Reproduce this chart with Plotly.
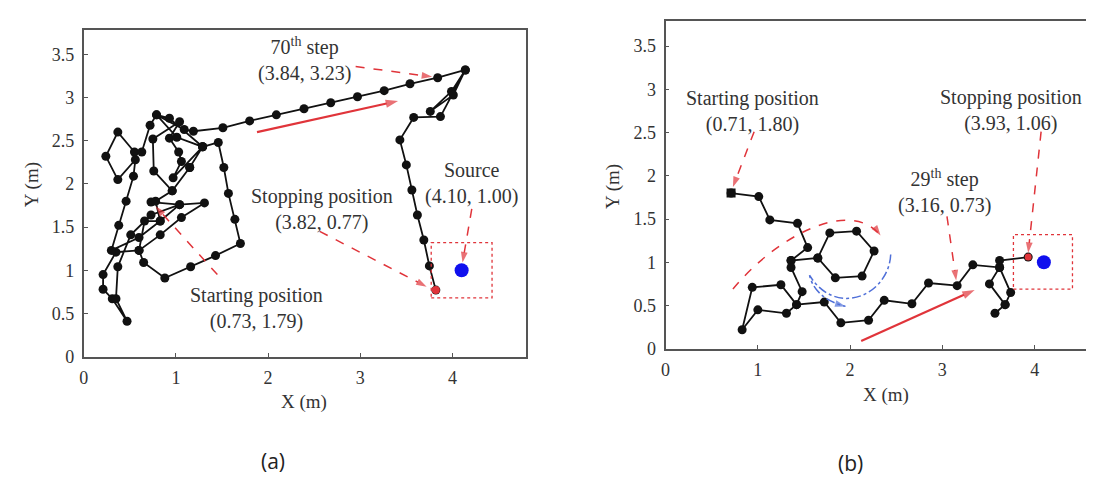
import plotly.graph_objects as go

# ---------------- data ----------------
# Panel (a) trajectory (X, Y in metres)
a_x = [0.73, 1.04, 1.31, 1.06, 0.83, 0.60, 0.35, 0.21, 0.21, 0.31, 0.47, 0.35, 0.37, 0.51,
       0.73, 1.04, 0.83, 0.60, 0.30, 0.38, 0.46, 0.54, 0.56, 0.37, 0.24, 0.37, 0.55, 0.63,
       0.72, 0.79, 0.93, 1.29, 1.15, 0.96, 0.76, 0.75, 1.04, 0.93, 1.03, 1.06, 0.97, 1.29,
       1.46, 1.52, 1.57, 1.64, 1.70, 1.43, 1.16, 0.88, 0.65, 0.60, 0.66, 0.83, 0.78, 0.96,
       1.15, 1.29, 1.01, 0.79, 1.09, 1.19, 1.51, 1.80, 2.09, 2.39, 2.68, 2.97, 3.26, 3.54,
       3.84, 4.14, 3.99, 3.76, 4.01, 4.14, 3.87, 3.58, 3.43, 3.50, 3.56, 3.62, 3.69, 3.75, 3.82]
a_y = [1.79, 1.76, 1.78, 1.61, 1.41, 1.23, 1.21, 0.95, 0.78, 0.67, 0.41, 0.67, 1.04, 1.41,
       1.64, 1.76, 1.57, 1.38, 1.23, 1.52, 1.80, 2.09, 2.28, 2.05, 2.32, 2.60, 2.37, 2.37,
       2.68, 2.80, 2.76, 2.43, 2.19, 1.92, 2.15, 2.52, 2.72, 2.53, 2.37, 2.26, 2.07, 2.43,
       2.48, 2.19, 1.89, 1.59, 1.31, 1.17, 1.04, 0.91, 1.09, 1.23, 1.57, 1.57, 1.80, 1.92,
       2.19, 2.43, 2.54, 2.80, 2.63, 2.61, 2.65, 2.73, 2.80, 2.87, 2.94, 3.01, 3.08, 3.16,
       3.23, 3.32, 3.07, 2.84, 3.03, 3.32, 2.78, 2.77, 2.51, 2.22, 1.93, 1.64, 1.35, 1.05, 0.77]

# Panel (b) trajectory
b_x = [0.71, 1.01, 1.13, 1.43, 1.54, 1.36, 1.65, 1.78, 2.07, 2.26, 2.13, 1.84, 1.65, 1.36,
       1.36, 1.48, 1.42, 1.25, 0.94, 0.83, 1.00, 1.31, 1.42, 1.72, 1.90, 2.20, 2.37, 2.67,
       2.85, 3.16, 3.33, 3.62, 3.51, 3.68, 3.57, 3.68, 3.74, 3.62, 3.62, 3.93]
b_y = [1.80, 1.76, 1.49, 1.45, 1.17, 1.02, 1.05, 1.34, 1.36, 1.13, 0.84, 0.82, 1.05, 1.02,
       0.94, 0.66, 0.51, 0.74, 0.71, 0.22, 0.45, 0.41, 0.51, 0.54, 0.30, 0.33, 0.56, 0.52,
       0.76, 0.73, 0.97, 0.94, 0.75, 0.51, 0.41, 0.51, 0.65, 0.94, 1.02, 1.06]

source_xy = (4.10, 1.00)
x_ticks = [0, 1, 2, 3, 4]
y_ticks = [0, 0.5, 1, 1.5, 2, 2.5, 3, 3.5]
y_tick_text = ["0", "0.5", "1", "1.5", "2", "2.5", "3", "3.5"]

label_a_70 = "70<sup>th</sup> step<br>(3.84, 3.23)"
label_a_stop = "Stopping position<br>(3.82, 0.77)"
label_a_src = "Source<br>(4.10, 1.00)"
label_a_start = "Starting position<br>(0.73, 1.79)"
label_b_start = "Starting position<br>(0.71, 1.80)"
label_b_29 = "29<sup>th</sup> step<br>(3.16, 0.73)"
label_b_stop = "Stopping position<br>(3.93, 1.06)"

# ---------------- layout geometry ----------------
W, H = 1094, 480
dom_ax = [0.0658, 0.4717]
dom_ay = [0.2583, 0.9527]
dom_bx = [0.5996, 1.0]
dom_by = [0.275, 0.9723]
rng_ax = [0, 4.8]
rng_ay = [0, 3.78]
rng_bx = [0, 4.73]
rng_by = [0, 3.79]

SERIF = "Liberation Serif, Times New Roman, serif"
TXT = "#333333"
RED = "#e0343a"
BLUE = "#4f6fd8"
AXC = "#555555"

fig = go.Figure()
NOHOVER = dict(showlegend=False, hoverinfo="skip")

path_style = dict(mode="lines+markers", line=dict(color="#111111", width=1.8),
                  marker=dict(color="#111111", size=9), **NOHOVER)

fig.add_trace(go.Scatter(x=a_x, y=a_y, xaxis="x", yaxis="y", **path_style))
fig.add_trace(go.Scatter(x=b_x, y=b_y, xaxis="x2", yaxis="y2", **path_style))

# start marker in (b) is square
fig.add_trace(go.Scatter(x=b_x[:1], y=b_y[:1], xaxis="x2", yaxis="y2", mode="markers",
                         marker=dict(symbol="square", color="#111111", size=9), **NOHOVER))
# stopping positions (red)
fig.add_trace(go.Scatter(x=a_x[-1:], y=a_y[-1:], xaxis="x", yaxis="y", mode="markers",
                         marker=dict(color=RED, size=8), **NOHOVER))
fig.add_trace(go.Scatter(x=b_x[-1:], y=b_y[-1:], xaxis="x2", yaxis="y2", mode="markers",
                         marker=dict(color=RED, size=7), **NOHOVER))
# sources (blue)
for xa, ya in (("x", "y"), ("x2", "y2")):
    fig.add_trace(go.Scatter(x=[source_xy[0]], y=[source_xy[1]], xaxis=xa, yaxis=ya, mode="markers",
                             marker=dict(color="#1010ee", size=14), **NOHOVER))

shapes = []
annotations = []


def arrow(xr, yr, tail, tip, color=RED, dash="dash", width=1.5, size=11):
    yr_ = "y" if xr == "x" else "y2"
    fig.add_trace(go.Scatter(x=[tail[0], tip[0]], y=[tail[1], tip[1]], xaxis=xr, yaxis=yr_,
                             mode="lines+markers",
                             line=dict(color=color, width=width, dash=dash),
                             marker=dict(symbol="arrow", angleref="previous", size=[0, size],
                                         color=color, line=dict(width=0)),
                             **NOHOVER))


def curve_head(xr, before, tip, color, size=11):
    yr_ = "y" if xr == "x" else "y2"
    fig.add_trace(go.Scatter(x=[before[0], tip[0]], y=[before[1], tip[1]], xaxis=xr, yaxis=yr_,
                             mode="markers",
                             marker=dict(symbol="arrow", angleref="previous", size=[0, size],
                                         color=color, line=dict(width=0)),
                             **NOHOVER))


def label(xr, yr, text, x, y):
    annotations.append(dict(x=x, y=y, xref=xr, yref=yr, text=text, showarrow=False,
                            xanchor="center", yanchor="middle", align="center",
                            font=dict(family=SERIF, size=20, color=TXT)))


# ----- panel (a) annotations -----
label("x", "y", label_a_70, 2.39, 3.445)
arrow("x", "y", (2.95, 3.36), (3.78, 3.24))
label("x", "y", label_a_stop, 2.59, 1.70)
arrow("x", "y", (2.56, 1.45), (3.72, 0.81))
label("x", "y", label_a_src, 4.21, 2.00)
arrow("x", "y", (4.21, 1.71), (4.11, 1.09))
label("x", "y", label_a_start, 1.87, 0.56)
arrow("x", "y", (1.45, 0.95), (0.78, 1.74))
arrow("x", "y", (1.88, 2.60), (3.41, 2.96), dash="solid", width=2.2, size=13)
shapes.append(dict(type="rect", xref="x", yref="y", x0=3.77, x1=4.43, y0=0.68, y1=1.32,
                   line=dict(color=RED, width=1.3, dash="dot")))

# ----- panel (b) annotations -----
label("x2", "y2", label_b_start, 0.94, 2.74)
arrow("x2", "y2", (0.96, 2.51), (0.73, 1.87))
label("x2", "y2", label_b_29, 3.02, 1.815)
arrow("x2", "y2", (3.05, 1.53), (3.15, 0.79))
label("x2", "y2", label_b_stop, 3.74, 2.76)
arrow("x2", "y2", (4.07, 2.51), (3.93, 1.11))
arrow("x2", "y2", (2.12, 0.09), (3.35, 0.68), dash="solid", width=2.2, size=13)
shapes.append(dict(type="rect", xref="x2", yref="y2", x0=3.77, x1=4.41, y0=0.69, y1=1.32,
                   line=dict(color=RED, width=1.3, dash="dot")))
# curved red dashed arrow
shapes.append(dict(type="path", xref="x2", yref="y2",
                   path="M 0.73,0.69 C 1.2,1.3 2.0,1.75 2.33,1.31",
                   line=dict(color=RED, width=1.5, dash="dash")))
curve_head("x2", (2.20, 1.50), (2.33, 1.31), RED)
# curved blue dash-dot arrow
shapes.append(dict(type="path", xref="x2", yref="y2",
                   path="M 2.44,1.09 C 2.42,0.62 1.85,0.35 1.56,0.85 Q 1.62,0.58 1.95,0.49",
                   line=dict(color=BLUE, width=1.5, dash="dashdot")))
curve_head("x2", (1.75, 0.55), (1.95, 0.49), BLUE)

# axis titles and captions (paper coords)
for x, y, t, ang in ((20 / W, 1 - 180 / H, "Y (m)", -90), (603 / W, 1 - 182 / H, "Y (m)", -90),
                     (293 / W, 1 - 402 / H, "X (m)", 0), (877 / W, 1 - 395 / H, "X (m)", 0)):
    annotations.append(dict(x=x, y=y, xref="paper", yref="paper", text=t, textangle=ang,
                            xanchor="center", yanchor="middle", showarrow=False,
                            font=dict(family=SERIF, size=19, color=TXT)))
for x, y, t in ((262 / W, 1 - 463 / H, "(a)"), (842 / W, 1 - 465 / H, "(b)")):
    annotations.append(dict(x=x, y=y, xref="paper", yref="paper", text=t, showarrow=False,
                            xanchor="center", yanchor="middle",
                            font=dict(family="Open Sans, sans-serif", size=21, color="#222222")))

axis_common = dict(showline=True, linecolor=AXC, linewidth=1.8, ticks="inside", ticklen=4,
                   tickcolor=AXC, tickwidth=1.2, showgrid=False, zeroline=False,
                   tickfont=dict(family=SERIF, size=18, color=TXT), ticklabelstandoff=4,
                   fixedrange=True)

fig.update_layout(
    width=W, height=H, margin=dict(l=0, r=0, t=0, b=0),
    paper_bgcolor="white", plot_bgcolor="white", showlegend=False,
    font=dict(family=SERIF),
    xaxis=dict(domain=dom_ax, range=rng_ax, tickvals=x_ticks, mirror=True, anchor="y", **axis_common),
    yaxis=dict(domain=dom_ay, range=rng_ay, tickvals=y_ticks, ticktext=y_tick_text, mirror=True,
               anchor="x", **axis_common),
    xaxis2=dict(domain=dom_bx, range=rng_bx, tickvals=x_ticks, mirror=True, anchor="y2", **axis_common),
    yaxis2=dict(domain=dom_by, range=rng_by, tickvals=y_ticks, ticktext=y_tick_text, mirror=False,
                anchor="x2", **axis_common),
    shapes=shapes, annotations=annotations,
)

fig.write_html("out.html")
